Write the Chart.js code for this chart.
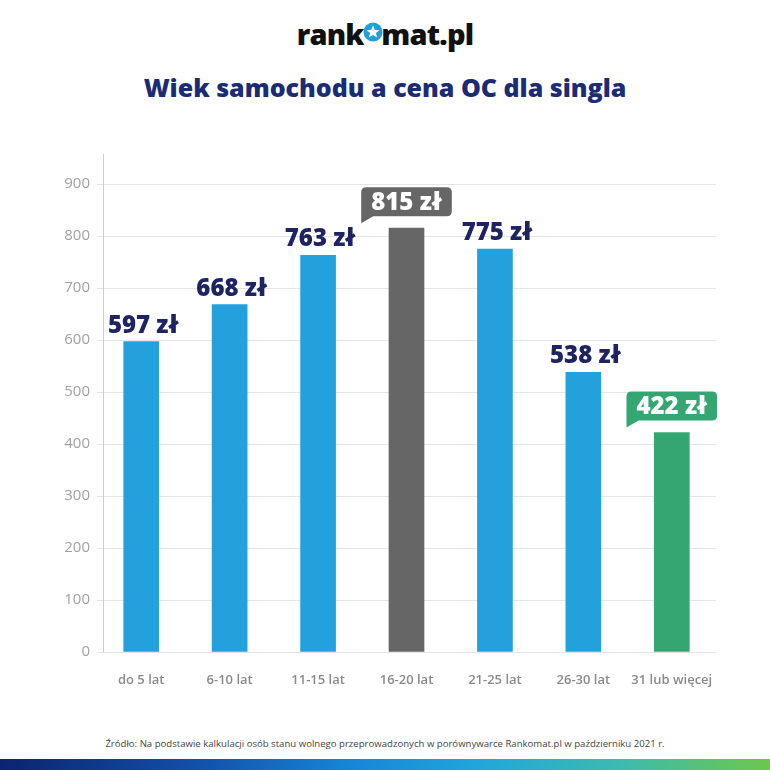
<!DOCTYPE html>
<html><head><meta charset="utf-8">
<script src="https://cdn.jsdelivr.net/npm/chart.js@4"></script>
<style>
html,body{margin:0;padding:0;background:#fff;width:770px;height:770px;overflow:hidden;font-family:'Open Sans',sans-serif}
#logo{position:absolute;top:14px;left:0;width:770px;text-align:center;font-weight:800;font-size:29px;color:#111;letter-spacing:-0.8px;font-family:'Open Sans',sans-serif}
#logo .o{position:relative;color:transparent}
#logo svg{position:absolute;left:-1px;top:8px}
#title{position:absolute;top:70px;left:0;width:770px;text-align:center;font-weight:800;font-size:25px;color:#1b2c74;font-family:'Open Sans',sans-serif}
#wrap{position:absolute;top:140px;left:0;width:770px;height:560px}
#src{position:absolute;top:737px;left:0;width:770px;text-align:center;font-size:9.6px;color:#444;font-family:'Open Sans',sans-serif}
#grad{position:absolute;top:759px;left:0;width:770px;height:11px;background:linear-gradient(90deg,#0b2470 0%,#124fa8 25%,#1685d6 45%,#20a6dc 62%,#3bbab2 80%,#6cc84a 100%)}
</style></head>
<body>
<div id="logo">rank<span class="o">o<svg width="20" height="20" viewBox="0 0 20 20"><circle cx="10" cy="10" r="9.5" fill="#23a0dc"/><polygon points="10,3.5 11.9,8 16.5,8.2 12.9,11.1 14.1,15.6 10,13 5.9,15.6 7.1,11.1 3.5,8.2 8.1,8" fill="#fff"/></svg></span>mat.pl</div>
<div id="title">Wiek samochodu a cena OC dla singla</div>
<div id="wrap"><canvas id="c" width="770" height="560"></canvas></div>
<div id="src">Źródło: Na podstawie kalkulacji osób stanu wolnego przeprowadzonych w porównywarce Rankomat.pl w październiku 2021 r.</div>
<div id="grad"></div>
<script>
const categories = ['do 5 lat','6-10 lat','11-15 lat','16-20 lat','21-25 lat','26-30 lat','31 lub więcej'];
const prices = [597, 668, 763, 815, 775, 538, 422];
const barColors = ['#23a1dd','#23a1dd','#23a1dd','#666666','#23a1dd','#23a1dd','#33a672'];
const boxedLabels = [false,false,false,true,false,false,true];
const yTicks = [0,100,200,300,400,500,600,700,800,900];

const labelPlugin = {
  id:'labels',
  afterDatasetsDraw(chart){
    const ctx = chart.ctx;
    const meta = chart.getDatasetMeta(0);
    const ca = chart.chartArea;
    ctx.save();
    ctx.strokeStyle = '#cfcfcf'; ctx.lineWidth = 1;
    ctx.beginPath(); ctx.moveTo(103.5, ca.top - 30); ctx.lineTo(103.5, ca.bottom); ctx.stroke();
    ctx.font = '800 24px "Open Sans"';
    ctx.textAlign = 'center';
    meta.data.forEach((bar, i) => {
      const txt = prices[i] + ' zł';
      if (boxedLabels[i]) {
        const w = ctx.measureText(txt).width + 20;
        const h = 29;
        const bottom = bar.y - 12;
        const left = bar.x - w/2;
        const r = 5;
        ctx.fillStyle = barColors[i];
        ctx.beginPath();
        ctx.moveTo(left + r, bottom - h);
        ctx.lineTo(left + w - r, bottom - h);
        ctx.quadraticCurveTo(left + w, bottom - h, left + w, bottom - h + r);
        ctx.lineTo(left + w, bottom - r);
        ctx.quadraticCurveTo(left + w, bottom, left + w - r, bottom);
        ctx.lineTo(left + 12, bottom);
        ctx.lineTo(left, bottom + 7);
        ctx.lineTo(left, bottom - h + r);
        ctx.quadraticCurveTo(left, bottom - h, left + r, bottom - h);
        ctx.closePath();
        ctx.fill();
        ctx.fillStyle = '#ffffff';
        ctx.textBaseline = 'middle';
        ctx.fillText(txt, bar.x, bottom - h/2 + 1);
      } else {
        ctx.fillStyle = '#1e2461';
        ctx.textBaseline = 'alphabetic';
        ctx.fillText(txt, bar.x + 2, bar.y - 9);
      }
    });
    ctx.restore();
  }
};

new Chart(document.getElementById('c'), {
  type:'bar',
  data:{ labels: categories, datasets:[{ data: prices, backgroundColor: barColors, barThickness: 35, borderWidth:0 }]},
  options:{
    responsive:false, devicePixelRatio:1, animation:false,
    layout:{ padding:{ top:44, left:0, right:54, bottom:0 } },
    plugins:{ legend:{display:false}, tooltip:{enabled:false} },
    scales:{
      y:{ min:0, max:900,
        afterBuildTicks(s){ s.ticks = yTicks.map(v => ({value:v})); },
        afterFit(s){ s.width = 97; },
        ticks:{ color:'#a0a0a0', font:{ size:15, family:'Open Sans' }, padding:7 },
        grid:{ color:'#e4e4e4', drawTicks:false },
        border:{ display:false }
      },
      x:{
        afterFit(s){ s.height = 48; },
        ticks:{ color:'#8a8a8a', font:{ size:13, family:'Open Sans', weight:'600' }, padding:20, maxRotation:0, autoSkip:false },
        grid:{ display:false, drawTicks:false },
        border:{ display:false }
      }
    }
  },
  plugins:[labelPlugin]
});
</script>
</body></html>
